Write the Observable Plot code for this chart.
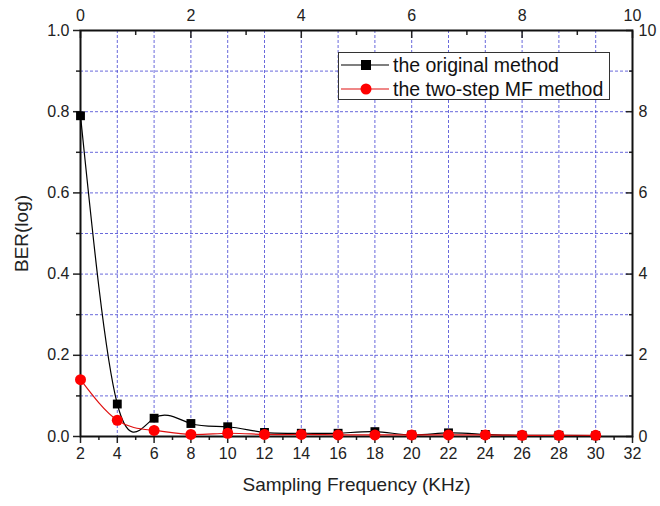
<!DOCTYPE html>
<html><head><meta charset="utf-8">
<script src="https://cdn.jsdelivr.net/npm/d3@7"></script>
<script src="https://cdn.jsdelivr.net/npm/@observablehq/plot@0.6"></script>
<style>
body{margin:0;background:#fff;font-family:"Liberation Sans",Arial,sans-serif;}
#wrap{position:relative;width:660px;height:506px;}
#legend{position:absolute;left:338px;top:52px;width:270px;height:46px;border:1.5px solid #333;background:#fff;font-size:19.5px;color:#111;}
#legend .row{position:absolute;left:0;height:24px;display:flex;align-items:center;}
#legend svg{margin-left:2px;margin-right:4px;}
</style></head>
<body><div id="wrap"></div>
<script>
const freq = [2,4,6,8,10,12,14,16,18,20,22,24,26,28,30];
const original = [0.79,0.08,0.045,0.032,0.024,0.010,0.008,0.008,0.012,0.004,0.009,0.005,0.003,0.003,0.002];
const twoStep = [0.14,0.04,0.015,0.005,0.008,0.005,0.005,0.004,0.004,0.004,0.004,0.004,0.003,0.003,0.003];
const bottomTicks = d3.range(2,33,2);
const bottomMinor = d3.range(3,32,2);
const topTicks = [0,2,4,6,8,10];
const topMinor = [1,3,5,7,9];
const leftTicks = [0,0.2,0.4,0.6,0.8,1.0];
const leftMinor = [0.1,0.3,0.5,0.7,0.9];
const rightTicks = [0,2,4,6,8,10];
const seriesNames = ["the original method","the two-step MF method"];

const dataA = freq.map((f,i)=>({f, v: original[i]}));
const dataB = freq.map((f,i)=>({f, v: twoStep[i]}));
const topToX = t => 2 + t*3;
const rightToY = r => r/10;

const gridColor = "#3a3ad0";
const chart = Plot.plot({
  width: 660, height: 506,
  marginLeft: 80, marginRight: 28, marginTop: 30, marginBottom: 70,
  style: {fontFamily: '"Liberation Sans", Arial, sans-serif', fontSize: "16px", color: "#222", background: "#fff"},
  x: {domain: [2,32]},
  y: {domain: [0,1]},
  marks: [
    Plot.gridX(d3.range(4,31,2), {stroke: gridColor, strokeOpacity: 0.85, strokeDasharray: "3,2", strokeWidth: 0.9}),
    Plot.gridY([0.1,0.2,0.3,0.4,0.5,0.6,0.7,0.8,0.9], {stroke: gridColor, strokeOpacity: 0.85, strokeDasharray: "3,2", strokeWidth: 0.9}),
    Plot.axisX({anchor: "bottom", ticks: bottomTicks, tickSize: 7, tickPadding: 4, tickFormat: d=>d, fontSize: 16, label: "Sampling Frequency (KHz)", labelAnchor: "center", labelArrow: "none", labelOffset: 54, strokeWidth: 1.5}),
    Plot.axisX({anchor: "bottom", ticks: bottomMinor, tickSize: 4, text: null, label: null, strokeWidth: 1.5}),
    Plot.axisX({anchor: "top", ticks: topTicks.map(topToX), tickSize: -7, tickPadding: 17, tickFormat: d=>String((d-2)/3), fontSize: 16, label: null, strokeWidth: 1.5}),
    Plot.axisX({anchor: "top", ticks: topMinor.map(topToX), tickSize: -4, text: null, label: null, strokeWidth: 1.5}),
    Plot.axisY({anchor: "left", ticks: leftTicks, tickSize: 7, tickPadding: 4, tickFormat: d3.format(".1f"), fontSize: 16, label: "BER(log)", labelAnchor: "center", labelArrow: "none", labelOffset: 66, strokeWidth: 1.5}),
    Plot.axisY({anchor: "left", ticks: leftMinor, tickSize: 4, text: null, label: null, strokeWidth: 1.5}),
    Plot.axisY({anchor: "right", ticks: rightTicks.map(rightToY), tickSize: -7, tickPadding: 13, tickFormat: d=>String(Math.round(d*10)), fontSize: 16, label: null, strokeWidth: 1.5}),
    Plot.axisY({anchor: "right", ticks: leftMinor, tickSize: -4, text: null, label: null, strokeWidth: 1.5}),
    Plot.frame({stroke: "#111", strokeWidth: 2}),
    Plot.line(dataA, {x: "f", y: "v", curve: "natural", stroke: "#000", strokeWidth: 1.2}),
    Plot.line(dataB, {x: "f", y: "v", curve: "natural", stroke: "#e01010", strokeWidth: 1.2}),
    Plot.dot(dataA, {x: "f", y: "v", symbol: "square", r: 5, fill: "#000", stroke: "none"}),
    Plot.dot(dataB, {x: "f", y: "v", symbol: "circle", r: 5.5, fill: "#ff0000", stroke: "none"})
  ]
});
const wrap = document.getElementById("wrap");
wrap.appendChild(chart);
chart.querySelectorAll("g[aria-label='x-axis label'] text, g[aria-label='y-axis label'] text").forEach(t=>{t.style.fontSize="19px";});

const legend = document.createElement("div");
legend.id = "legend";
legend.innerHTML = `
<div class="row" style="top:0px"><svg width="48" height="14"><line x1="0" y1="7" x2="48" y2="7" stroke="#000" stroke-width="1.2"/><rect x="20" y="2" width="10" height="10" fill="#000"/></svg><span>${seriesNames[0]}</span></div>
<div class="row" style="top:24px"><svg width="48" height="14"><line x1="0" y1="7" x2="48" y2="7" stroke="#e01010" stroke-width="1.2"/><circle cx="25" cy="7" r="5.5" fill="#ff0000"/></svg><span>${seriesNames[1]}</span></div>`;
wrap.appendChild(legend);
</script></body></html>
